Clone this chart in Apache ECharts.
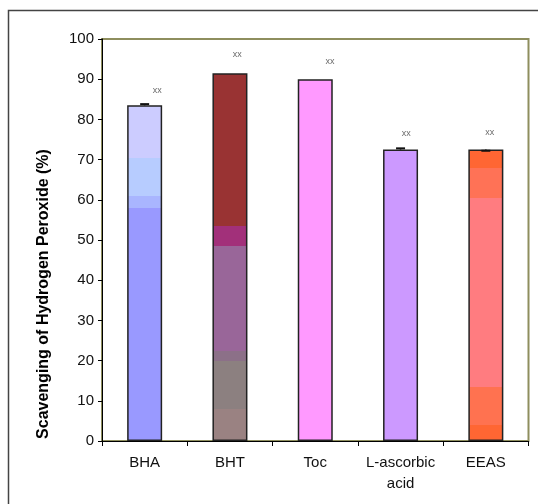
<!DOCTYPE html>
<html>
<head>
<meta charset="utf-8">
<script src="https://cdn.jsdelivr.net/npm/echarts@6/dist/echarts.min.js"></script>
<style>
html,body{margin:0;padding:0;background:#fff;}
#c{width:538px;height:504px;}
</style>
</head>
<body>
<div id="c"></div>
<script>
// ---- data ----
var categories = ['BHA', 'BHT', 'Toc', 'L-ascorbic\nacid', 'EEAS'];
var scavenging = [83.5, 91.5, 90.0, 72.5, 72.5];
var errUp = [0.3, 0, 0, 0.3, 0];
var errDown = [0, 0, 0, 0, 0.3];
var markText = 'xx';
var markValues = [87.1, 96.2, 94.4, 76.5, 76.8];
var yTicks = [0, 10, 20, 30, 40, 50, 60, 70, 80, 90, 100];

// ---- styles (colour bands from bottom, in axis units) ----
var bandStyles = [
  [[0, '#9999FF'], [58, '#A9B5FF'], [61, '#B7CCFF'], [70.5, '#CCCCFF']],
  [[0, '#9A8282'], [8, '#8C8080'], [20, '#8C7088'], [22.5, '#996699'], [48.5, '#A2307A'], [53.5, '#993333']],
  [[0, '#FF99FF']],
  [[0, '#CC99FF']],
  [[0, '#FF6633'], [4, '#FF7250'], [13.5, '#FF7C80'], [60.5, '#FF7256'], [68, '#FF6633']]
];
var markOffsetX = [12.7, 7.3, 14.7, 5.7, 4];

function bandGradient(bands, v) {
  var stops = [];
  // build from top (offset 0) to bottom (offset 1)
  for (var i = bands.length - 1; i >= 0; i--) {
    var lo = bands[i][0];
    var hi = (i === bands.length - 1) ? v : bands[i + 1][0];
    var oTop = Math.max(0, Math.min(1, 1 - hi / v));
    var oBot = Math.max(0, Math.min(1, 1 - lo / v));
    stops.push({offset: oTop, color: bands[i][1]});
    stops.push({offset: oBot, color: bands[i][1]});
  }
  return {type: 'linear', x: 0, y: 0, x2: 0, y2: 1, colorStops: stops};
}

var barData = scavenging.map(function (v, i) {
  return {value: v, itemStyle: {color: bandGradient(bandStyles[i], v)}};
});

var errData = scavenging.map(function (v, i) { return [i, v, errUp[i], errDown[i]]; });

var markData = markValues.map(function (v, i) {
  return {value: [i, v], label: {offset: [markOffsetX[i], 0]}};
});

var FONT = 'Liberation Sans, Arial, sans-serif';
var chart = echarts.init(document.getElementById('c'), null, {renderer: 'canvas'});
chart.setOption({
  backgroundColor: '#fff',
  animation: false,
  grid: {left: 102, top: 39, right: 9.5, bottom: 63, show: true, borderColor: '#8E8E5E', borderWidth: 2, backgroundColor: 'transparent'},
  xAxis: {
    type: 'category',
    data: categories,
    axisLine: {lineStyle: {color: '#000', width: 1}},
    axisTick: {show: true, alignWithLabel: false, length: 5, lineStyle: {color: '#000', width: 1}},
    axisLabel: {color: '#111', fontSize: 15, fontFamily: FONT, margin: 11, lineHeight: 21, interval: 0}
  },
  yAxis: {
    type: 'value',
    min: yTicks[0], max: yTicks[yTicks.length - 1], interval: 10,
    axisLine: {show: true, lineStyle: {color: '#000', width: 1}},
    axisTick: {show: true, length: 4, lineStyle: {color: '#000', width: 1}},
    axisLabel: {color: '#111', fontSize: 15, fontFamily: FONT, margin: 8},
    splitLine: {show: false}
  },
  series: [
    {
      type: 'bar',
      data: barData,
      barWidth: 35,
      itemStyle: {borderColor: '#222', borderWidth: 1.5},
      z: 2
    },
    {
      type: 'custom',
      data: errData,
      z: 5,
      renderItem: function (params, api) {
        var x = api.value(0), v = api.value(1), up = api.value(2), dn = api.value(3);
        var children = [];
        var half = 4.5;
        [[up, 1], [dn, -1]].forEach(function (e) {
          if (e[0] > 0) {
            var p0 = api.coord([x, v]);
            var p1 = api.coord([x, v + e[1] * e[0]]);
            children.push({type: 'line', shape: {x1: p0[0], y1: p0[1], x2: p1[0], y2: p1[1]}, style: {stroke: '#111', lineWidth: 1.5}});
            children.push({type: 'line', shape: {x1: p1[0] - half, y1: p1[1], x2: p1[0] + half, y2: p1[1]}, style: {stroke: '#111', lineWidth: 2}});
          }
        });
        return {type: 'group', children: children};
      }
    },
    {
      type: 'scatter',
      data: markData,
      symbolSize: 0,
      z: 6,
      label: {show: true, position: 'inside', formatter: markText, fontSize: 9, color: '#444', fontFamily: FONT}
    }
  ],
  graphic: [
    {type: 'rect', shape: {x: 8.5, y: 10.5, width: 700, height: 700}, style: {fill: 'none', stroke: '#444', lineWidth: 1.5}, z: 100, silent: true},
    {type: 'text', x: 44, y: 294, rotation: Math.PI / 2, style: {text: 'Scavenging of Hydrogen Peroxide (%)', font: 'bold 16px ' + FONT, fill: '#000', textAlign: 'center', textVerticalAlign: 'middle'}, z: 100}
  ]
});
</script>
</body>
</html>
